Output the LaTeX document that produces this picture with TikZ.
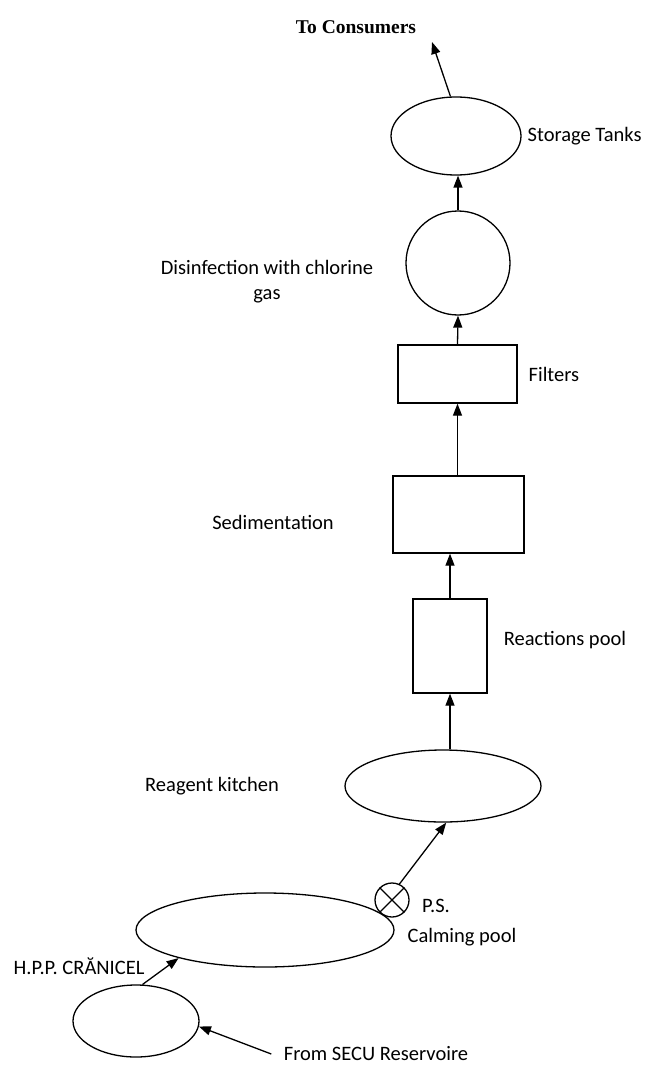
\documentclass[tikz,border=0pt]{standalone}
\usepackage{fontspec}
\setmainfont{Carlito}
\newfontfamily\headfont{Liberation Serif}
\usetikzlibrary{shapes.geometric,arrows.meta}

\begin{document}
\begin{tikzpicture}[x=1pt,y=-1pt,line width=1.3pt,
	flow/.style={-{Triangle[length=12pt,width=9pt]}},
	pool/.style={draw,ellipse,inner sep=0pt},
	tank/.style={draw,rectangle,inner sep=0pt},
	lbl/.style={font=\fontsize{20.5}{25}\selectfont,inner sep=1pt}]
	\useasboundingbox (0,0) rectangle (660,1067);
	
	% Stationen, von unten nach oben
	\node[pool,minimum width=126pt,minimum height=72pt] (hpp) at (136,1021) {};
	\node[pool,minimum width=258pt,minimum height=74pt] (calming) at (265,930) {};
	\node[draw,circle,minimum size=34pt,inner sep=0pt] (ps) at (392,900) {};
	\draw (ps.45) -- (ps.225) (ps.135) -- (ps.315);
	\node[pool,minimum width=196pt,minimum height=72pt] (reagent) at (443,786) {};
	\node[tank,minimum width=74pt,minimum height=94pt] (reactions) at (450,646) {};
	\node[tank,minimum width=131pt,minimum height=77pt] (sedim) at (458.5,514.5) {};
	\node[tank,minimum width=119pt,minimum height=58pt] (filters) at (457.5,374) {};
	\node[draw,circle,minimum size=104pt,inner sep=0pt] (chlor) at (458,263) {};
	\node[pool,minimum width=130pt,minimum height=78pt] (storage) at (456,136) {};
	
	% Beschriftungen
	\node[lbl,inner sep=0pt] (secul) at (376,1054) {From SECU Reservoire};
	\node[lbl] (hppl) at (79,966) {H.P.P. CRĂNICEL};
	\node[lbl] (calmingl) at (462,937) {Calming pool};
	\node[lbl] (psl) at (436,906) {P.S.};
	\node[lbl] (reagentl) at (212,786) {Reagent kitchen};
	\node[lbl] (reactionsl) at (565,640) {Reactions pool};
	\node[lbl] (sediml) at (273,522) {Sedimentation};
	\node[lbl,anchor=west] (filtersl) at (527,374) {Filters};
	\node[lbl,align=center] (chlorl) at (267,282) {Disinfection with chlorine\\gas};
	\node[lbl,anchor=west] (storagel) at (526,136) {Storage Tanks};
	\node[font=\headfont\bfseries\fontsize{19.5}{23}\selectfont,inner sep=1pt] (consl) at (356,27) {To Consumers};
	\coordinate (cons) at (432,42);
	
	% Verbindungen
	\draw[flow] ([xshift=-12pt]secul.west) -- (hpp.-5);
	\draw[flow] (hpp.80) -- (calming.198);
	\draw[flow] (ps.65) -- (reagent.275);
	\draw[flow] (reactions.south |- reagent.north) -- (reactions.south);
	\draw[flow] (reactions.north) -- (reactions.north |- sedim.south);
	\draw[flow] (sedim.north -| filters) -- (filters.south);
	\draw[flow] (filters.north) -- (chlor.south);
	\draw[flow] (chlor.north) -- (chlor.north |- storage.south);
	\draw[flow] (storage.98) -- (cons);
	
\end{tikzpicture}
\end{document}
